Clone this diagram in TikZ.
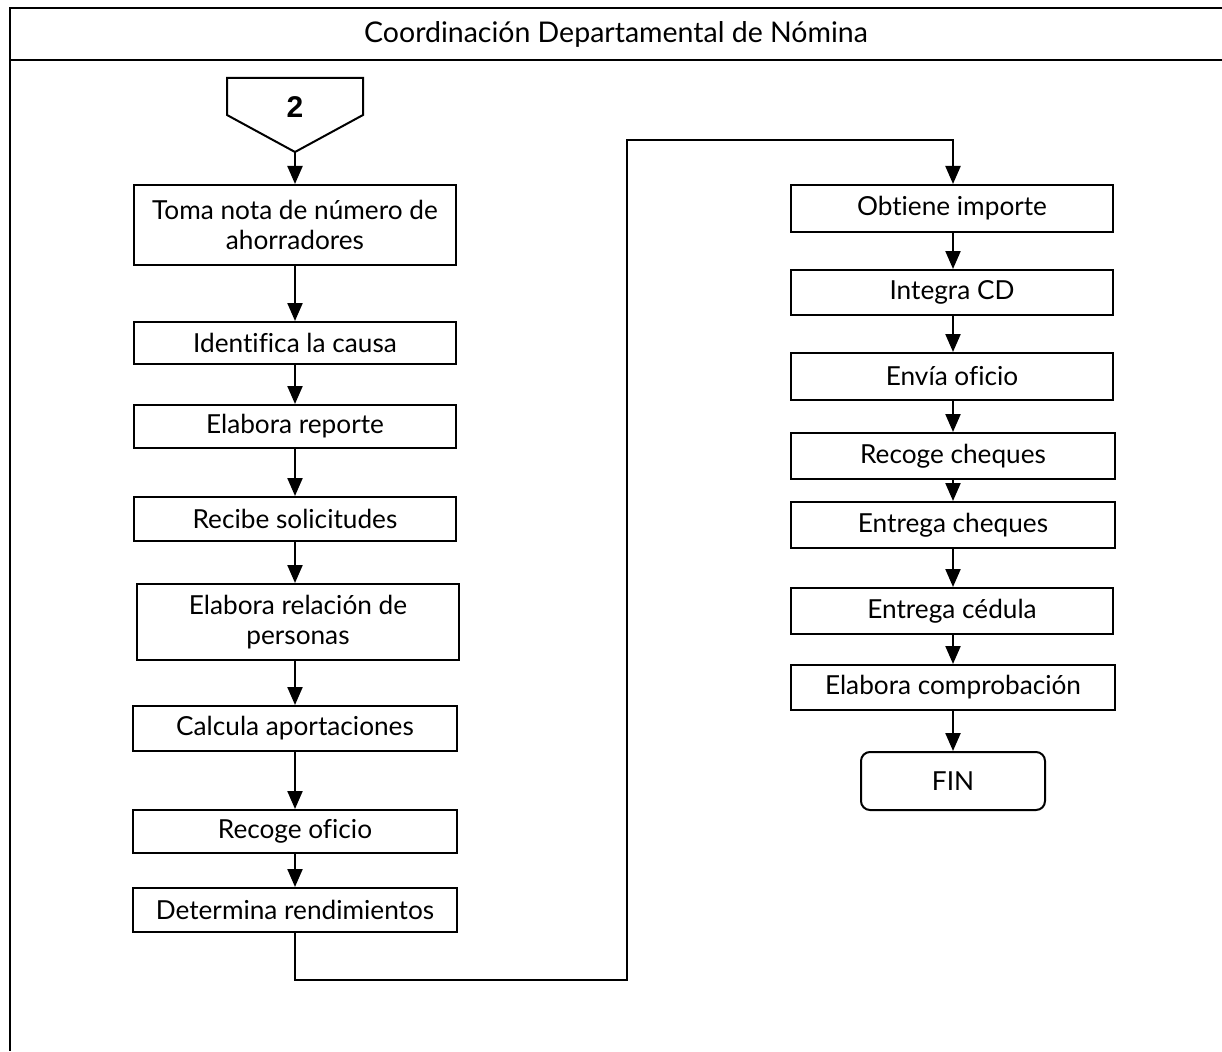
\documentclass[tikz,border=0pt]{standalone}
\usepackage{fontspec}
\setmainfont{Lato}[Ligatures=CommonOff]
\newfontfamily\numfont{Liberation Sans}
\usetikzlibrary{arrows.meta}
\begin{document}
\begin{tikzpicture}[x=1pt,y=-1pt,
  proc/.style={draw,line width=2pt,minimum width=322pt,inner sep=0pt,align=center,
    font=\fontsize{26.2}{30}\selectfont},
  finbox/.style={proc,rounded corners=9pt,minimum width=184pt,minimum height=58pt},
  flow/.style={line width=2.2pt,-{Triangle[width=15pt,length=18pt]}},
  frame/.style={line width=2pt}]
\useasboundingbox (0,0) rectangle (1222,1051);
% frame
\coordinate (tl) at (10,8);
\coordinate (tr) at (1222,8);
\coordinate (hl) at (10,60);
\coordinate (hr) at (1222,60);
\coordinate (bl) at (10,1051);
\draw[frame] (tr) -- (tl) -- (bl);
\draw[frame] (hl) -- (hr);
\node[font=\fontsize{28.5}{30}\selectfont] (title) at (616,34) {Coordinación Departamental de Nómina};
% off-page connector
\coordinate (c2a) at (227,78);
\coordinate (c2b) at (363,78);
\coordinate (c2c) at (363,115);
\coordinate (c2bot) at (295,152);
\coordinate (c2e) at (227,115);
\draw[line width=2pt,line join=miter] (c2a) -- (c2b) -- (c2c) -- (c2bot) -- (c2e) -- cycle;
\node[font=\numfont\bfseries\fontsize{30}{32}\selectfont] (two) at (295,107) {2};
% left column
\node[proc,minimum height=80pt] (b1) at (295,225) {Toma nota de número de\\ahorradores};
\node[proc,minimum height=42pt] (b2) at (295,343) {Identifica la causa};
\node[proc,minimum height=43pt] (b3) at (295,426.5) {Elabora reporte};
\node[proc,minimum height=44pt] (b4) at (295,519) {Recibe solicitudes};
\node[proc,minimum height=76pt] (b5) at (298,622) {Elabora relación de\\personas};
\node[proc,minimum width=324pt,minimum height=45pt] (b6) at (295,728.5) {Calcula aportaciones};
\node[proc,minimum width=324pt,minimum height=43pt] (b7) at (295,831.5) {Recoge oficio};
\node[proc,minimum width=324pt,minimum height=44pt] (b8) at (295,910) {Determina rendimientos};
% right column
\node[proc,minimum height=47pt] (r1) at (952,208.5) {Obtiene importe};
\node[proc,minimum height=45pt] (r2) at (952,292.5) {Integra CD};
\node[proc,minimum height=47pt] (r3) at (952,376.5) {Envía oficio};
\node[proc,minimum width=324pt,minimum height=46pt] (r4) at (953,456) {Recoge cheques};
\node[proc,minimum width=324pt,minimum height=46pt] (r5) at (953,525) {Entrega cheques};
\node[proc,minimum height=46pt] (r6) at (952,611) {Entrega cédula};
\node[proc,minimum width=324pt,minimum height=45pt] (r7) at (953,687.5) {Elabora comprobación};
\node[finbox] (fin) at (953,781) {FIN};
% connectors left
\draw[flow] (c2bot) -- (c2bot |- b1.north);
\draw[flow] (b1.south) -- (b1.south |- b2.north);
\draw[flow] (b2.south) -- (b2.south |- b3.north);
\draw[flow] (b3.south) -- (b3.south |- b4.north);
\draw[flow] (b4.south) -- (b4.south |- b5.north);
\draw[flow] (b5.south -| b6) -- (b6.north);
\draw[flow] (b6.south) -- (b7.north);
\draw[flow] (b7.south) -- (b8.north);
% long connector
\coordinate (k1) at (295,980);
\coordinate (k2) at (627,980);
\coordinate (k3) at (627,140);
\coordinate (k4) at (953,140);
\draw[flow,line join=miter] (b8.south) -- (k1) -- (k2) -- (k3) -- (k4) -- (k4 |- r1.north);
% connectors right
\draw[flow] (r1.south -| k4) -- (k4 |- r2.north);
\draw[flow] (r2.south -| k4) -- (k4 |- r3.north);
\draw[flow] (r3.south -| k4) -- (r4.north);
\draw[flow] (r4.south) -- (r5.north);
\draw[flow] (r5.south) -- (r5.south |- r6.north);
\draw[flow] (r6.south -| r7) -- (r7.north);
\draw[flow] (r7.south) -- (fin.north);
\end{tikzpicture}
\end{document}
